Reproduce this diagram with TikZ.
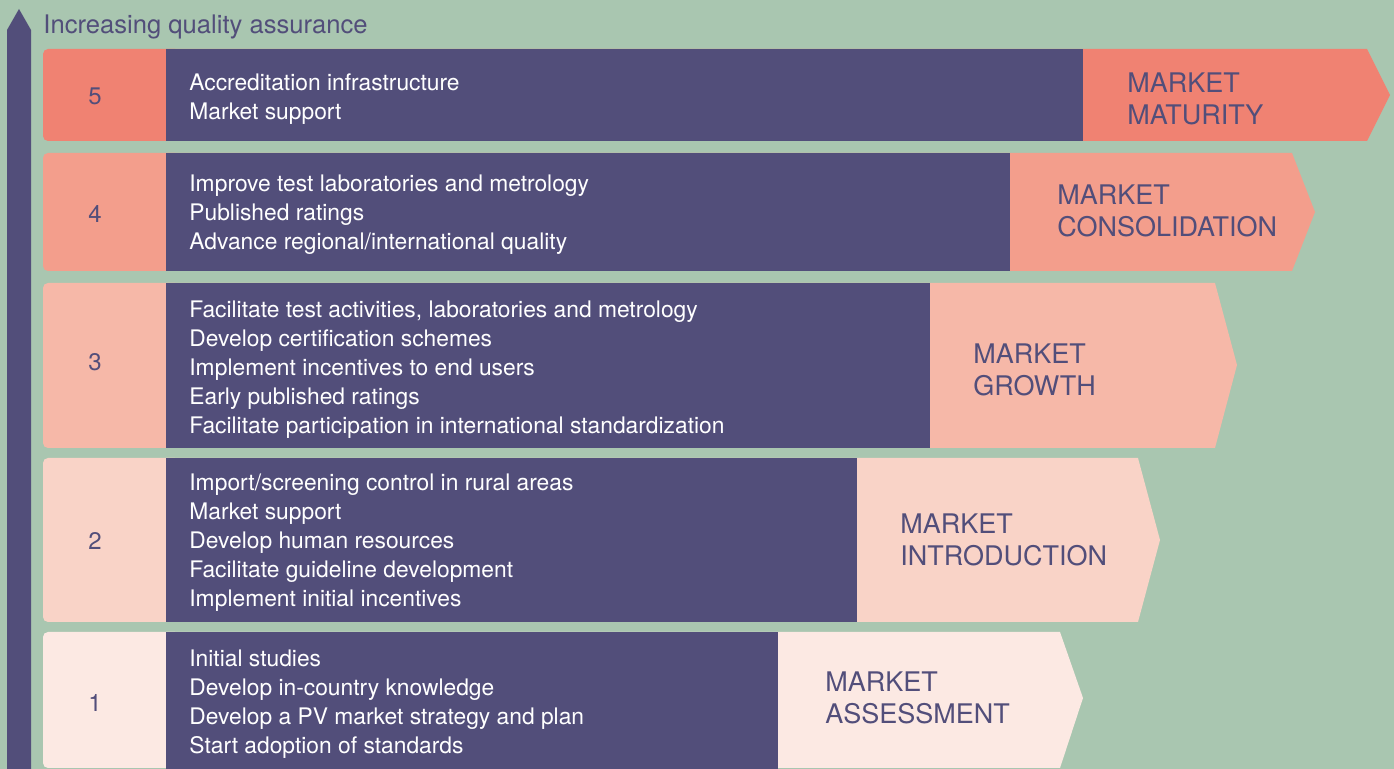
\documentclass[tikz,border=0pt]{standalone}
\usepackage{fontspec}
\setmainfont{TeX Gyre Heros}
\usepackage{xcolor}
\usetikzlibrary{positioning}

\definecolor{bggreen}{RGB}{169,198,176}
\definecolor{darkpurple}{RGB}{82,78,122}
\definecolor{levelfive}{RGB}{240,130,114}
\definecolor{levelfour}{RGB}{243,158,140}
\definecolor{levelthree}{RGB}{246,184,168}
\definecolor{leveltwo}{RGB}{249,211,199}
\definecolor{levelone}{RGB}{252,233,227}

\begin{document}
\begin{tikzpicture}[x=0.5pt,y=-0.5pt,
		numtxt/.style={text=darkpurple,inner sep=0pt,font=\fontsize{12}{14}\selectfont},
		acttxt/.style={text=white,anchor=west,align=left,inner sep=0pt,font=\fontsize{11.4}{14.5}\selectfont},
		phasetxt/.style={text=darkpurple,anchor=west,align=left,inner sep=0pt,font=\fontsize{13.5}{16}\selectfont},
		numbox/.style={rounded corners=2.5pt}] %Stufen
		\useasboundingbox[fill=bggreen] (0,0) rectangle (1394,769);
		% Pfeil links
		\fill[darkpurple] (7,769) -- (7,30) -- (19,9) -- (31,30) -- (31,769) -- cycle;
		\node[anchor=base west,inner sep=0pt,text=darkpurple,font=\fontsize{12.8}{14}\selectfont] (title) at (43,34) {Increasing quality assurance};
		% Stufe 5
		\fill[levelfive,numbox] (43,49) rectangle (180,141);
		\fill[levelfive] (166,49) -- (1367,49) -- (1390,95) -- (1367,141) -- (166,141) -- cycle;
		\fill[darkpurple] (166,49) rectangle (1083,141);
		\node[numtxt] (n5) at (95,96) {5};
		\node[acttxt] (a5) at (189,99) {Accreditation infrastructure\\Market support};
		\node[phasetxt] (p5) at (1127,99) {MARKET\\MATURITY};
		% Stufe 4
		\fill[levelfour,numbox] (43,153) rectangle (180,271);
		\fill[levelfour] (166,153) -- (1292,153) -- (1315,212) -- (1292,271) -- (166,271) -- cycle;
		\fill[darkpurple] (166,153) rectangle (1010,271);
		\node[numtxt] (n4) at (95,214) {4};
		\node[acttxt] (a4) at (189,215) {Improve test laboratories and metrology\\Published ratings\\Advance regional/international quality};
		\node[phasetxt] (p4) at (1057,211) {MARKET\\CONSOLIDATION};
		% Stufe 3
		\fill[levelthree,numbox] (43,283) rectangle (180,448);
		\fill[levelthree] (166,283) -- (1215,283) -- (1237,365) -- (1215,448) -- (166,448) -- cycle;
		\fill[darkpurple] (166,283) rectangle (930,448);
		\node[numtxt] (n3) at (95,362) {3};
		\node[acttxt] (a3) at (189,370) {Facilitate test activities, laboratories and metrology\\Develop certification schemes\\Implement incentives to end users\\Early published ratings\\Facilitate participation in international standardization};
		\node[phasetxt] (p3) at (973,370) {MARKET\\GROWTH};
		% Stufe 2
		\fill[leveltwo,numbox] (43,458) rectangle (180,622);
		\fill[leveltwo] (166,458) -- (1138,458) -- (1160,540) -- (1138,622) -- (166,622) -- cycle;
		\fill[darkpurple] (166,458) rectangle (857,622);
		\node[numtxt] (n2) at (95,541) {2};
		\node[acttxt] (a2) at (189,543) {Import/screening control in rural areas\\Market support\\Develop human resources\\Facilitate guideline development\\Implement initial incentives};
		\node[phasetxt] (p2) at (900,540) {MARKET\\INTRODUCTION};
		% Stufe 1
		\fill[levelone,numbox] (43,632) rectangle (180,768);
		\fill[levelone] (166,632) -- (1060,632) -- (1083,698) -- (1060,768) -- (166,768) -- cycle;
		\fill[darkpurple] (166,632) rectangle (778,769);
		\node[numtxt] (n1) at (95,703) {1};
		\node[acttxt] (a1) at (189,704) {Initial studies\\Develop in-country knowledge\\Develop a PV market strategy and plan\\Start adoption of standards};
		\node[phasetxt] (p1) at (825,698) {MARKET\\ASSESSMENT};
\end{tikzpicture}
\end{document}
